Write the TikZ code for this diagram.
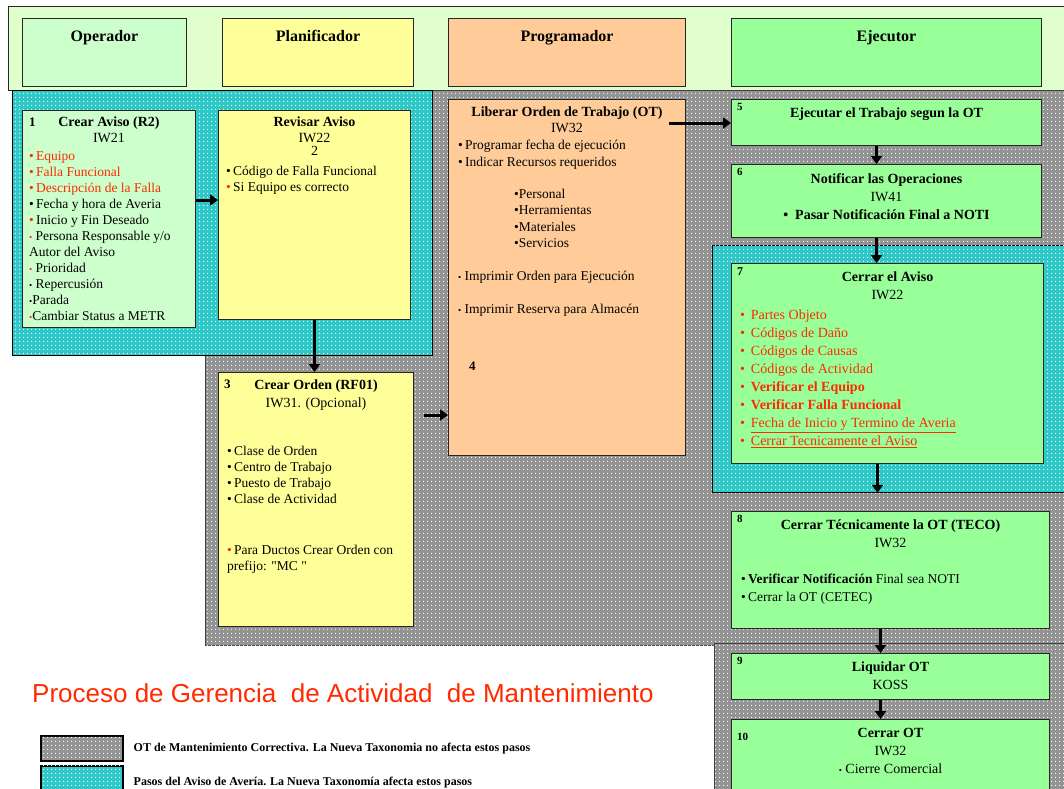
\documentclass[tikz,border=0pt]{standalone}
\usepackage{fontspec}
\setmainfont{Liberation Serif}
\newfontfamily\titlefont{Liberation Sans}
\usetikzlibrary{arrows.meta,positioning,calc,patterns.meta}

\definecolor{bandgreen}{HTML}{E0FFCC}
\definecolor{opgreen}{HTML}{CCFFCC}
\definecolor{planyellow}{HTML}{FFFF99}
\definecolor{progpeach}{HTML}{FFCC99}
\definecolor{ejegreen}{HTML}{99FF99}
\definecolor{zonegray}{HTML}{939393}
\definecolor{zonecyan}{HTML}{2EC8C8}
\definecolor{rojo}{HTML}{FF2A00}

\newcommand{\smbul}{{\fontsize{9}{9}\selectfont\textbullet}}
\newcommand{\redbul}{\textcolor{rojo}{\textbullet}\,}
\newcommand{\blkbul}{\textbullet\,}
\newcommand{\redsm}{\textcolor{rojo}{\smbul}\ }
\newcommand{\blksm}{\smbul\ }

\begin{document}
\begin{tikzpicture}[x=1pt, y=-1pt,
    stepbox/.style={rectangle, draw=black!85, line width=1pt, anchor=north west, inner sep=0pt},
    zone/.style={rectangle, draw=black!75, line width=0.8pt, anchor=north west, inner sep=0pt,
        postaction={pattern={Dots[distance=4pt, radius=0.8pt]}, pattern color=white}},
    numtxt/.style={anchor=north west, inner sep=0pt, font=\fontsize{13}{15}\selectfont\bfseries},
    titletxt/.style={anchor=north, inner sep=0pt, align=center, font=\fontsize{14}{16}\selectfont},
    listtxt/.style={anchor=north west, inner sep=0pt, align=left, font=\fontsize{13.5}{16}\selectfont},
    headtxt/.style={anchor=north, inner sep=0pt, font=\fontsize{16}{18}\selectfont\bfseries},
    legtxt/.style={inner sep=0pt, font=\fontsize{12}{13}\selectfont\bfseries},
    arrow/.style={-{Triangle[length=8pt, width=11pt]}, line width=3pt}
]
    \useasboundingbox (0,0) rectangle (1064,788);
    \clip (0,0) rectangle (1064,788);
    \fill[white] (0,0) rectangle (1064,788);

    % Header band
    \node[stepbox, fill=bandgreen, minimum width=1070pt, minimum height=84pt] (band) at (8,6) {};
    \node[stepbox, fill=opgreen, minimum width=164pt, minimum height=68pt] (h1) at (22,18) {};
    \node[stepbox, fill=planyellow, minimum width=191pt, minimum height=68pt] (h2) at (222,18) {};
    \node[stepbox, fill=progpeach, minimum width=237pt, minimum height=68pt] (h3) at (448,18) {};
    \node[stepbox, fill=ejegreen, minimum width=310pt, minimum height=68pt] (h4) at (731,18) {};
    \node[headtxt] (ht1) at ($(h1.north)+(0,12)$) {Operador};
    \node[headtxt] (ht2) at ($(h2.north)+(0,12)$) {Planificador};
    \node[headtxt] (ht3) at ($(h3.north)+(0,12)$) {Programador};
    \node[headtxt] (ht4) at ($(h4.north)+(0,12)$) {Ejecutor};

    % Zones
    \node[zone, fill=zonegray, minimum width=870pt, minimum height=555pt] (gz1) at (205,90) {};
    \node[zone, fill=zonegray, minimum width=360pt, minimum height=160pt] (gz2) at (714,643) {};
    \node[zone, fill=zonecyan, draw=black, minimum width=420pt, minimum height=265pt] (cz1) at (12,90) {};
    \node[zone, fill=zonecyan, draw=black, minimum width=360pt, minimum height=247pt] (cz2) at (712,245) {};

    % Step 1
    \node[stepbox, fill=opgreen, minimum width=173pt, minimum height=217pt] (b1) at (22,110) {};
    \node[numtxt] (n1) at ($(b1.north west)+(7,8)$) {1};
    \node[titletxt] (ti1) at ($(b1.north)+(0,7)$) {\textbf{Crear Aviso (R2)}\\IW21};
    \node[listtxt] (l1) at ($(b1.north west)+(7,41)$) {
        \redbul\textcolor{rojo}{Equipo}\\
        \redbul\textcolor{rojo}{Falla Funcional}\\
        \redbul\textcolor{rojo}{Descripción de la Falla}\\
        \blkbul Fecha y hora de Averia\\
        \redbul Inicio y Fin Deseado\\
        \redsm Persona Responsable y/o\\
        Autor del Aviso\\
        \redsm Prioridad\\
        \blksm Repercusión\\
        \smbul Parada\\
        \textcolor{rojo}{\smbul}Cambiar Status a METR};

    % Step 2
    \node[stepbox, fill=planyellow, minimum width=192pt, minimum height=209pt] (b2) at (218,110) {};
    \node[titletxt] (ti2) at ($(b2.north)+(0,7)$) {\textbf{Revisar Aviso}\\IW22\\[-3pt]2};
    \node[listtxt] (l2) at ($(b2.north west)+(8,56)$) {
        \blkbul Código de Falla Funcional\\
        \redbul Si Equipo es correcto};

    % Step 3
    \node[stepbox, fill=planyellow, minimum width=195pt, minimum height=254pt] (b3) at (218,372) {};
    \node[numtxt] (n3) at ($(b3.north west)+(6,8)$) {3};
    \node[titletxt, font=\fontsize{14}{18}\selectfont] (ti3) at ($(b3.north)+(0,8)$) {\textbf{Crear Orden (RF01)}\\IW31. (Opcional)};
    \node[listtxt] (l3) at ($(b3.north west)+(9,74)$) {
        \blkbul Clase de Orden\\
        \blkbul Centro de Trabajo\\
        \blkbul Puesto de Trabajo\\
        \blkbul Clase de Actividad\\[35pt]
        \redbul Para Ductos Crear Orden con\\
        prefijo: {\addfontfeatures{Ligatures=TeXOff}"MC "}};

    % Step 4
    \node[stepbox, fill=progpeach, minimum width=237pt, minimum height=356pt] (b4) at (448,99) {};
    \node[titletxt] (ti4) at ($(b4.north)+(0,8)$) {\textbf{Liberar Orden de Trabajo (OT)}\\IW32};
    \node[listtxt, font=\fontsize{13.5}{16.4}\selectfont] (l4) at ($(b4.north west)+(10,41)$) {
        \blkbul Programar fecha de ejecución\\
        \blkbul Indicar Recursos requeridos\\[16pt]
        \hspace*{56pt}\textbullet Personal\\
        \hspace*{56pt}\textbullet Herramientas\\
        \hspace*{56pt}\textbullet Materiales\\
        \hspace*{56pt}\textbullet Servicios\\[16pt]
        \blksm Imprimir Orden para Ejecución\\[17pt]
        \blksm Imprimir Reserva para Almacén};
    \node[numtxt] (n4) at ($(b4.north west)+(21,263)$) {4};

    % Step 5
    \node[stepbox, fill=ejegreen, minimum width=310pt, minimum height=46pt] (b5) at (731,99) {};
    \node[numtxt, font=\fontsize{11}{13}\selectfont\bfseries] (n5) at ($(b5.north west)+(6,4)$) {5};
    \node[titletxt] (ti5) at ($(b5.north)+(0,9)$) {\textbf{Ejecutar el Trabajo segun la OT}};

    % Step 6
    \node[stepbox, fill=ejegreen, minimum width=310pt, minimum height=73pt] (b6) at (731,164) {};
    \node[numtxt, font=\fontsize{11}{13}\selectfont\bfseries] (n6) at ($(b6.north west)+(6,4)$) {6};
    \node[titletxt, font=\fontsize{14}{18}\selectfont] (ti6) at ($(b6.north)+(0,9)$) {\textbf{Notificar las Operaciones}\\IW41\\\textbf{\textbullet\enspace Pasar Notificación Final a NOTI}};

    % Step 7
    \node[stepbox, fill=ejegreen, minimum width=312pt, minimum height=200pt] (b7) at (731,263) {};
    \node[numtxt, font=\fontsize{12}{14}\selectfont\bfseries] (n7) at ($(b7.north west)+(6,4)$) {7};
    \node[titletxt, font=\fontsize{14}{18}\selectfont] (ti7) at ($(b7.north)+(0,9)$) {\textbf{Cerrar el Aviso}\\IW22};
    \node[listtxt, font=\fontsize{14}{18}\selectfont\color{rojo}] (l7) at ($(b7.north west)+(9,47)$) {
        \textbullet\, Partes Objeto\\
        \textbullet\, Códigos de Daño\\
        \textbullet\, Códigos de Causas\\
        \textbullet\, Códigos de Actividad\\
        \textbullet\, \textbf{Verificar el Equipo}\\
        \textbullet\, \textbf{Verificar Falla Funcional}\\
        \textbullet\, \underline{Fecha de Inicio y Termino de Averia}\\
        \textbullet\, \underline{Cerrar Tecnicamente el Aviso}};

    % Step 8
    \node[stepbox, fill=ejegreen, minimum width=318pt, minimum height=117pt] (b8) at (731,511) {};
    \node[numtxt, font=\fontsize{11}{13}\selectfont\bfseries] (n8) at ($(b8.north west)+(6,4)$) {8};
    \node[titletxt, font=\fontsize{14}{18}\selectfont] (ti8) at ($(b8.north)+(0,9)$) {\textbf{Cerrar Técnicamente la OT (TECO)}\\IW32};
    \node[listtxt, font=\fontsize{13.5}{18}\selectfont] (l8) at ($(b8.north west)+(10,63)$) {
        \blkbul\textbf{Verificar Notificación} Final sea NOTI\\
        \blkbul Cerrar la OT (CETEC)};

    % Step 9
    \node[stepbox, fill=ejegreen, minimum width=318pt, minimum height=46pt] (b9) at (731,653) {};
    \node[numtxt, font=\fontsize{11}{13}\selectfont\bfseries] (n9) at ($(b9.north west)+(6,4)$) {9};
    \node[titletxt, font=\fontsize{14}{18}\selectfont] (ti9) at ($(b9.north)+(0,9)$) {\textbf{Liquidar OT}\\KOSS};

    % Step 10
    \node[stepbox, fill=ejegreen, minimum width=318pt, minimum height=100pt] (b10) at (731,719) {};
    \node[numtxt, font=\fontsize{11}{13}\selectfont\bfseries] (n10) at ($(b10.north west)+(6,14)$) {10};
    \node[titletxt, font=\fontsize{14}{18}\selectfont] (ti10) at ($(b10.north)+(0,9)$) {\textbf{Cerrar OT}\\IW32\\\smbul\ Cierre Comercial};

    % Title and legend
    \node[anchor=base west, inner sep=0pt, text=rojo, font=\titlefont\fontsize{26}{30}\selectfont] (title) at (32,702) {Proceso de Gerencia\ \ de Actividad\ \ de Mantenimiento};
    \node[zone, fill=zonegray, draw=black, line width=1.5pt, minimum width=82pt, minimum height=25pt] (lg1) at (40,735) {};
    \node[zone, fill=zonecyan, draw=black, line width=1.5pt, minimum width=82pt, minimum height=30pt] (lg2) at (40,765) {};
    \node[legtxt, anchor=west] (lt1) at ($(lg1.east)+(10,0)$) {OT de Mantenimiento Correctiva. La Nueva Taxonomia no afecta estos pasos};
    \node[legtxt, anchor=base west] (lt2) at ($(lg2.north east)+(10,20)$) {Pasos del Aviso de Avería. La Nueva Taxonomía afecta estos pasos};

    % Arrows
    \coordinate (a1) at ($(b1.north east)+(0,90)$);
    \draw[arrow] (a1) -- (a1 -| b2.west);
    \draw[arrow] (b2.south) -- (b2.south |- b3.north);
    \coordinate (a3) at ($(b3.north east)+(10,43)$);
    \draw[arrow] (a3) -- (a3 -| b4.west);
    \coordinate (a4) at ($(b4.north east)+(-17,24)$);
    \draw[arrow] (a4) -- (a4 -| b5.west);
    \coordinate (a5) at ($(b5.south)+(-10,0)$);
    \draw[arrow] (a5) -- (a5 |- b6.north);
    \coordinate (a6) at ($(b6.south)+(-10,0)$);
    \draw[arrow] (a6) -- (a6 |- b7.north);
    \coordinate (a7) at ($(b7.south)+(-10,0)$);
    \draw[arrow] (a7) -- (a7 |- cz2.south);
    \coordinate (a8) at ($(b8.south)+(-10,0)$);
    \draw[arrow] (a8) -- (a8 |- b9.north);
    \coordinate (a9) at ($(b9.south)+(-10,0)$);
    \draw[arrow] (a9) -- (a9 |- b10.north);
\end{tikzpicture}
\end{document}
